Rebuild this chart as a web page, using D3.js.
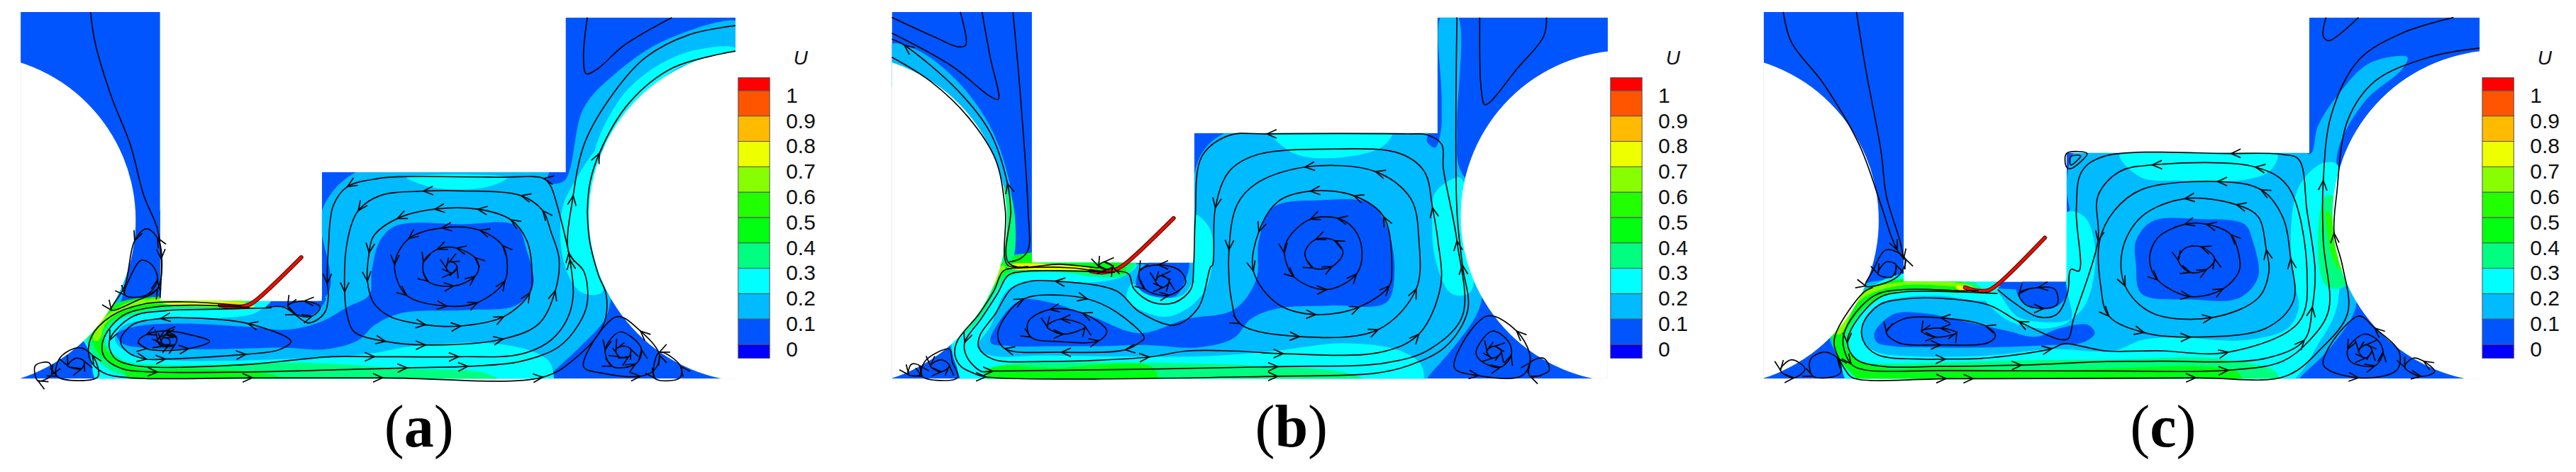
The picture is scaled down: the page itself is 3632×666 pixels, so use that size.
<!DOCTYPE html>
<html>
<head>
  <meta charset="utf-8">
  <title>Velocity contours and streamlines</title>
  <script src="https://d3js.org/d3.v7.min.js"></script>
  <style>
    body { margin: 0; background: #fff; }
    svg { display: block; }
  </style>
</head>
<body>
  <script>
// colour bar
const levelValues = [0, 0.1, 0.2, 0.3, 0.4, 0.5, 0.6, 0.7, 0.8, 0.9, 1];
const levelLabels = ["0", "0.1", "0.2", "0.3", "0.4", "0.5", "0.6", "0.7", "0.8", "0.9", "1"];
const bandColors = ["#0000ff", "#0055ff", "#00bbff", "#00ffff", "#00ff80", "#00ff11", "#22ff00", "#88ff00", "#eeff00", "#ffbb00", "#ff5500", "#ff0000"];

// panel geometry in reference units
const panelNames = ["a", "b", "c"];
const outlineA = [[38,40],[295,40],[295,1000],[593,1000],[593,572],[1042,572],[1042,58],[1355,58],[1355,1258],[38,1258]];
const outlineB = [[49,40],[307,40],[307,873],[606,873],[606,442],[1054,442],[1054,58],[1368,58],[1368,1258],[49,1258]];
const outlineC = [[74,40],[332,40],[332,936],[632,936],[632,508],[1079,508],[1079,58],[1393,58],[1393,1258],[74,1258]];
const rollersA = [[-56,732],[1391,718]];
const rollersB = [[-45,732],[1403,718]];
const rollersC = [[-20,732],[1428,718]];
const plateA = [[555,855],[470,1000],[455,1015],[430,1020],[405,1014]];
const plateB = [[568,725],[480,875],[462,895],[435,905],[415,900]];
const plateC = [[592,790],[505,945],[487,965],[465,965],[445,955]];

// contour bands [U, polygon], painted in order
const bandsA = [
  [0.15, [[670,560],[1010,560],[1008,605],[1040,600],[1075,360],[1130,250],[1230,130],[1370,75],[1400,200],[1180,600],[1150,800],[1125,1000],[1115,1060],[1070,1150],[1010,1250],[990,1285],[185,1285],[168,1170],[155,1100],[205,1020],[240,990],[600,985],[593,700]]],
  [0.05, [[700,800],[730,750],[850,745],[950,750],[970,830],[982,950],[950,1015],[860,1030],[740,1040],[690,1080],[660,1130],[600,1160],[520,1155],[400,1160],[260,1155],[225,1140],[215,1110],[250,1085],[330,1075],[450,1085],[530,1095],[590,1070],[640,1020],[680,980],[685,900]]],
  [0.05, [[530,990],[600,990],[580,1040],[560,1050],[535,1030]]],
  [0.05, [[295,990],[240,1015],[205,1030],[195,1000],[230,800],[300,700]]],
  [0.15, [[240,750],[212,900],[192,1030],[215,1022],[236,900]]],
  [0.25, [[750,590],[935,590],[900,620],[840,630],[790,620]]],
  [0.25, [[1100,500],[1060,600],[1035,700],[1040,880],[1070,970],[1110,970],[1090,700]]],
  [0.25, [[1355,160],[1255,180],[1160,290],[1105,450],[1095,520],[1150,400],[1250,225],[1355,190]]],
  [0.25, [[500,995],[290,997],[205,1030],[150,1100],[165,1170],[190,1290],[1012,1290],[1015,1210],[985,1170],[900,1140],[760,1150],[680,1175],[560,1190],[300,1195],[235,1170],[212,1130],[225,1085],[290,1058],[420,1055],[470,1040]]],
  [0.35, [[480,990],[300,985],[200,1020],[160,1110],[172,1180],[205,1232],[240,1258],[240,1290],[935,1290],[900,1243],[750,1225],[560,1205],[300,1212],[225,1195],[195,1135],[210,1075],[265,1037],[340,1025],[440,1025]]],
  [0.45, [[450,995],[300,985],[205,1018],[170,1115],[182,1175],[225,1230],[260,1290],[560,1290],[500,1245],[350,1225],[260,1225],[210,1190],[188,1130],[200,1075],[255,1030],[330,1015],[440,1017]]],
  [0.65, [[450,990],[300,990],[230,1010],[180,1080],[172,1130],[182,1130],[197,1070],[245,1020],[320,1008],[450,1015]]],
  [0.75, [[300,998],[450,1008],[470,1018],[440,1020],[300,1006]]],
  [0.85, [[405,1008],[455,1012],[465,1018],[440,1022],[405,1016]]]
];
const bandsB = [
  [0.15, [[680,430],[1035,430],[1035,470],[1050,490],[1060,440],[1062,330],[1062,50],[1090,50],[1090,430],[1095,560],[1150,700],[1135,1000],[1125,1050],[1090,1140],[1040,1245],[1020,1285],[190,1285],[165,1190],[155,1120],[215,1000],[250,860],[606,860],[600,700],[620,510]]],
  [0.05, [[750,690],[840,665],[930,675],[960,750],[975,900],[960,1005],[860,1015],[760,1025],[710,1060],[679,1123],[614,1154],[514,1146],[436,1150],[348,1150],[270,1150],[231,1138],[250,1060],[287,997],[340,1005],[418,1052],[505,1107],[592,1060],[679,1029],[720,930],[725,800]]],
  [0.05, [[505,900],[530,865],[595,865],[585,950],[570,985],[530,985],[500,950]]],
  [0.15, [[49,145],[100,170],[170,270],[230,420],[265,600],[275,780],[270,860],[235,900],[200,700],[100,400],[20,200]]],
  [0.25, [[750,442],[970,442],[950,490],[860,525],[790,510]]],
  [0.25, [[1050,640],[1095,590],[1115,700],[1115,970],[1080,975],[1050,860],[1045,700]]],
  [0.25, [[606,712],[635,760],[640,860],[628,958],[610,1000],[597,1021],[557,1052],[514,1036],[483,997],[483,966],[492,942],[514,974],[549,989],[584,981],[601,942],[606,900]]],
  [0.25, [[500,880],[330,860],[250,880],[165,1100],[160,1165],[168,1215],[190,1290],[1020,1290],[1025,1215],[985,1165],[880,1140],[760,1165],[679,1178],[592,1185],[331,1181],[231,1181],[207,1154],[231,1083],[257,974],[287,938],[331,930],[418,938],[479,915]]],
  [0.35, [[222,1258],[218,1233],[252,1213],[374,1205],[505,1205],[720,1215],[900,1245],[940,1290],[215,1290]]],
  [0.35, [[176,1115],[213,1052],[248,950],[270,915],[374,907],[418,919],[479,915],[500,864],[450,864],[260,860],[240,890],[200,1000],[150,1110]]],
  [0.45, [[232,1290],[230,1228],[350,1222],[530,1222],[535,1290]]],
  [0.45, [[170,1115],[205,1050],[246,930],[270,899],[374,891],[430,900],[479,905],[470,860],[260,860],[200,1000],[160,1100]]],
  [0.35, [[240,600],[268,650],[272,860],[258,880],[240,700]]],
  [0.65, [[200,1000],[255,880],[258,890],[205,1010]]],
  [0.75, [[265,880],[400,885],[440,900],[470,890],[450,910],[400,900],[265,890]]]
];
const bandsC = [
  [0.15, [[632,600],[650,500],[700,500],[1060,500],[1082,510],[1095,420],[1130,320],[1190,210],[1260,190],[1250,230],[1180,340],[1130,520],[1150,700],[1160,900],[1165,1020],[1120,1150],[1070,1240],[1040,1285],[240,1285],[215,1200],[195,1100],[255,950],[300,930],[640,925]]],
  [0.05, [[760,800],[790,735],[880,728],[960,745],[975,800],[985,920],[950,990],[860,995],[770,975],[760,880]]],
  [0.05, [[278,1107],[313,1044],[366,1040],[444,1068],[522,1099],[575,1119],[618,1091],[671,1079],[684,1107],[662,1138],[610,1146],[488,1154],[400,1154],[313,1150],[283,1138]]],
  [0.05, [[540,950],[560,930],[640,930],[630,990],[605,1025],[570,1020],[545,990]]],
  [0.25, [[730,512],[1020,512],[1005,570],[950,600],[840,600],[770,590]]],
  [0.25, [[632,705],[665,720],[685,830],[670,1000],[640,1060],[590,1070],[540,1050],[510,980],[500,960],[480,985],[520,1060],[560,1085],[600,1090],[640,1060],[632,950]]],
  [0.25, [[1100,545],[1060,620],[1045,800],[1055,960],[1060,1020],[1040,1090],[960,1130],[830,1120],[770,1130],[720,1165],[601,1160],[488,1181],[357,1184],[283,1170],[259,1138],[255,1083],[283,1013],[331,988],[400,983],[488,997],[505,970],[500,925],[300,925],[205,1100],[215,1200],[240,1290],[1025,1290],[1100,1130],[1130,1020],[1135,700],[1130,545]]],
  [0.35, [[460,935],[330,925],[255,975],[205,1090],[207,1150],[228,1195],[255,1240],[280,1290],[1020,1290],[1020,1240],[1000,1220],[900,1190],[700,1195],[553,1197],[400,1205],[261,1205],[239,1193],[233,1115],[270,1005],[331,970],[422,958],[480,975]]],
  [0.35, [[1110,650],[1130,660],[1145,950],[1110,950],[1095,800]]],
  [0.45, [[440,938],[320,930],[250,975],[200,1100],[205,1160],[235,1240],[280,1290],[950,1290],[950,1240],[560,1232],[400,1222],[290,1222],[245,1195],[222,1130],[240,1060],[285,990],[335,958],[440,968]]],
  [0.55, [[1110,700],[1125,730],[1140,900],[1125,870]]],
  [0.65, [[215,1110],[250,1000],[320,950],[440,955],[470,965],[450,945],[330,937],[260,970],[200,1100]]],
  [0.75, [[430,950],[480,965],[510,950],[500,960],[470,972],[430,960]]]
];

// streamlines: [x, y] or [x, y, 1] where an arrow head sits. Open ones run with the flow.
const openA = [
  [[167,40],[175,140],[205,320],[240,480],[265,650],[290,760],[297,860,1],[295,990]],
  [[1082,58],[1075,190],[1080,245],[1100,230],[1150,150],[1238,58]],
  [[445,1015],[340,1003],[265,1010],[205,1050],[168,1120],[165,1190],[190,1238],[240,1255],[465,1255,1],[705,1255,1],[1000,1253,1],[1060,1190],[1111,1083],[1117,981],[1102,911],[1085,785],[1085,628],[1104,510,1],[1160,340],[1240,225],[1355,170]],
  [[460,1022],[360,1014],[285,1020],[225,1050],[190,1130],[192,1185],[225,1225],[290,1236,1],[450,1236],[750,1222,1],[862,1217,1],[958,1201],[1028,1154],[1067,1075],[1082,1005],[1076,903],[1048,840,1],[1056,650,1],[1078,471],[1130,310],[1190,190],[1270,115],[1355,85]],
  [[500,1023],[400,1027],[305,1032],[244,1052],[202,1130,1],[209,1185],[244,1213],[436,1213],[610,1185],[690,1185,1],[845,1185,1],[958,1177],[1015,1130],[1045,1060],[1056,981],[1050,863,1],[1041,785],[1024,667],[1015,620],[1002,593,1],[915,589],[740,587],[697,593],[640,620,1],[614,683],[605,824],[603,942,1],[605,981],[599,1036],[579,1068],[566,1072],[522,1020],[490,1022]]
];
const loopsA = [
  [[536,1134],[457,1075,1],[348,1056],[296,1058,1],[244,1079],[222,1130],[235,1170],[270,1193,1],[305,1193,1],[453,1177,1],[514,1162]],
  [[386,1134],[348,1111],[305,1099,1],[270,1111,1],[255,1134],[270,1158,1],[348,1158,1]],
  [[325,1120],[305,1112,1],[290,1130,1],[300,1150,1],[322,1145,1]],
  [[312,1128],[300,1122,1],[298,1140,1],[312,1145,1]],
  [[1023,966,1],[1030,860],[1015,770],[1000,700,1],[960,650,1],[850,634],[780,635,1],[700,650],[660,700,1],[640,800],[635,970,1],[640,1050],[653,1103],[710,1134,1],[784,1146,1],[927,1126,1],[993,1075]],
  [[980,903],[971,801],[941,730,1],[880,695,1],[801,695,1],[732,726,1],[688,785],[680,840,1],[677,934,1],[688,1005],[719,1052],[784,1079,1],[849,1083,1],[928,1052,1],[976,973,1]],
  [[934,863],[926,816,1],[884,765,1],[814,757,1],[753,793,1],[727,879,1],[749,981,1],[823,1017,1],[880,1005,1],[930,934,1]],
  [[882,887],[875,856,1],[841,824,1],[806,828,1],[780,871,1],[788,934,1],[836,950,1],[875,918,1]],
  [[838,875],[828,870,1],[822,890,1],[832,908,1],[842,890,1]],
  [[590,1020],[560,1000,1],[530,1015,1],[545,1045,1],[575,1050,1]],
  [[270,760],[248,800,1],[230,950],[205,1030,1],[250,1000],[290,960,1],[298,850],[290,790,1]],
  [[260,865],[240,920],[230,980,1],[270,980],[290,930,1],[280,880]],
  [[145,1155],[110,1190],[105,1250,1],[180,1252],[170,1180,1]],
  [[140,1190],[125,1215,1],[150,1225,1],[155,1200,1]],
  [[65,1215],[90,1205],[95,1245,1],[70,1265,1]],
  [[1136,1052],[1075,1217],[1110,1240],[1180,1250,1],[1205,1230],[1215,1180,1],[1180,1100,1]],
  [[1141,1103],[1115,1162,1],[1128,1217,1],[1171,1209,1],[1182,1162,1],[1163,1119]],
  [[1150,1150],[1135,1160,1],[1140,1185,1],[1158,1185,1],[1162,1160,1]],
  [[1215,1170,1],[1206,1256,1],[1252,1256],[1254,1217,1]]
];
const openB = [
  [[175,40],[185,150],[170,155],[130,125],[49,58]],
  [[215,40],[230,190],[245,330],[230,320],[160,220],[49,110]],
  [[272,40],[285,300],[300,700],[300,830],[285,860],[265,870]],
  [[1132,58],[1135,300],[1142,348],[1200,230],[1250,120],[1255,58]],
  [[430,890],[360,878],[265,875],[268,700],[262,610,1],[230,440],[170,300],[72,150,1],[49,130]],
  [[300,885],[262,880],[258,700],[240,530],[190,390],[120,270],[49,190]],
  [[440,905],[380,890],[290,890],[255,899],[237,966],[209,1044],[170,1131],[165,1178],[176,1217],[200,1240],[222,1252,1],[760,1250,1],[940,1240],[1000,1215],[1070,1150],[1110,1030],[1100,880,1],[1090,700],[1090,58]],
  [[460,905],[290,902],[263,915],[244,974],[213,1060],[183,1138,1],[187,1185],[213,1233],[235,1233,1],[760,1218,1],[960,1205],[1040,1160],[1100,1050],[1090,800,1],[1065,560],[1062,480],[1035,448],[1000,445],[740,445,1],[670,450],[620,520],[608,720],[605,880],[600,960],[570,1005],[530,1005],[495,960],[485,910],[460,900]]
];
const loopsB = [
  [[1045,690,1],[1030,570],[985,510],[860,495],[720,515],[670,570],[645,690,1],[640,880],[636,887],[614,1021],[570,1080],[505,1036],[462,966],[350,934,1],[305,934],[270,958],[239,1044],[211,1115],[209,1154],[235,1193],[331,1201],[523,1186,1],[592,1166],[679,1166],[770,1175,1],[950,1170],[1020,1110,1],[1060,950],[1055,800]],
  [[1015,960,1],[1020,800],[1005,660],[940,570,1],[810,555,1],[720,610],[685,680],[670,830,1],[675,1000],[690,1075,1],[800,1118,1],[945,1095,1]],
  [[970,900],[955,720,1],[900,650,1],[820,635,1],[760,670],[725,770,1],[715,900,1],[760,1010],[830,1045,1],[910,1020,1],[965,950,1]],
  [[915,830],[900,760],[870,725,1],[820,728,1],[780,790],[772,840,1],[790,920,1],[850,962,1],[905,910,1]],
  [[880,840],[865,800,1],[830,795,1],[810,840],[825,890,1],[860,885,1]],
  [[514,1123],[505,1138],[479,1162,1],[361,1170,1],[257,1158,1],[244,1115],[261,1044],[292,993,1],[331,980],[409,993,1],[462,1036]],
  [[445,1100],[400,1040,1],[340,1028,1],[300,1070],[305,1120,1],[360,1135],[430,1132,1]],
  [[405,1085,1],[360,1060,1],[335,1085,1],[365,1110,1]],
  [[590,940],[580,900],[540,880,1],[505,900,1],[515,960,1],[560,980,1]],
  [[560,935,1],[545,915,1],[535,935,1],[548,955,1]],
  [[455,885,1],[440,870,1],[430,885,1],[445,895,1]],
  [[155,1160],[110,1200],[105,1250,1],[170,1255],[160,1200]],
  [[140,1195],[120,1215,1],[140,1235,1],[155,1215,1]],
  [[85,1210],[80,1245,1],[100,1245],[100,1215,1]],
  [[1145,1050],[1085,1220],[1130,1248,1],[1210,1248],[1225,1190],[1200,1100,1]],
  [[1155,1100],[1125,1170],[1135,1200],[1170,1220,1],[1190,1180,1],[1185,1135]],
  [[1160,1150,1],[1145,1165,1],[1155,1190,1],[1172,1170,1]],
  [[1225,1205,1],[1250,1190],[1260,1230],[1225,1250,1]]
];
const openC = [
  [[110,40],[125,140],[185,280],[250,480],[290,680],[310,790],[320,830,1]],
  [[245,40],[262,230],[290,500],[300,650],[325,800],[332,860,1]],
  [[1170,58],[1115,135],[1105,120],[1110,58]],
  [[275,955],[257,973],[209,1099],[204,1146],[226,1233],[239,1256],[410,1258,1],[460,1258,1],[870,1255,1],[1035,1250],[1100,1160],[1150,1040],[1140,880],[1125,775,1],[1130,640],[1150,400],[1200,270],[1300,190],[1393,160]],
  [[470,965],[444,966],[331,962],[279,981],[235,1060],[220,1130],[235,1209,1],[261,1229],[400,1231],[705,1232],[930,1230,1],[1030,1200],[1080,1130],[1115,1030],[1105,800],[1105,600,1],[1120,380],[1170,200],[1250,110],[1345,58]],
  [[505,975],[331,970],[287,989],[244,1068],[228,1138,1],[244,1193],[292,1217],[400,1217],[549,1213,1],[705,1201],[800,1200],[1000,1190],[1070,1130,1],[1085,1020,1],[1090,900],[1075,700],[1060,530],[1030,513],[935,510,1],[700,520],[660,570],[650,700],[655,900],[640,895],[634,973],[614,1044],[579,1052],[535,1005],[505,962]]
];
const loopsC = [
  [[618,1127],[544,1068,1],[488,1013],[400,991],[335,993],[287,1013],[257,1076],[257,1130],[283,1178],[357,1193],[409,1193,1],[488,1189],[605,1158,1],[627,1142],[705,1166],[800,1165],[930,1170,1],[1060,1070],[1075,900],[1040,620],[980,555,1],[790,548,1],[730,570],[690,650],[690,800,1],[645,1060],[635,1125]],
  [[1045,860,1],[1030,720],[990,630,1],[910,603,1],[770,630],[720,700],[693,800],[695,950],[710,1050,1],[775,1105,1],[860,1120,1],[1000,1090],[1050,1000]],
  [[1000,830,1],[985,720],[945,680,1],[850,660,1],[770,720],[735,830],[740,950,1],[790,1040],[900,1055,1],[985,990],[1005,900]],
  [[950,850],[935,780,1],[890,745,1],[850,745,1],[800,790],[785,860],[800,930,1],[860,985,1],[920,960,1],[950,900]],
  [[905,860,1],[880,820,1],[850,825],[838,865,1],[860,905,1],[890,895,1]],
  [[501,1115],[483,1083,1],[400,1056,1],[331,1060],[300,1103,1],[322,1138],[400,1146,1],[488,1138]],
  [[430,1105,1],[400,1090,1],[365,1100,1],[390,1120,1]],
  [[615,1010],[610,960],[580,955,1],[545,975,1],[555,1010],[590,1025,1]],
  [[632,510],[670,510],[640,560],[632,555]],
  [[640,520],[658,518],[640,548]],
  [[300,830],[275,900],[262,950,1],[320,920],[335,860,1]],
  [[300,870],[285,910,1],[310,920],[318,880,1]],
  [[125,1195],[105,1230,1],[130,1255,1],[150,1225]],
  [[185,1170],[160,1195],[165,1250,1],[215,1240],[210,1190,1]],
  [[1170,1050],[1105,1210],[1170,1255,1],[1240,1230],[1245,1170],[1200,1090,1]],
  [[1180,1110],[1150,1160,1],[1155,1200],[1200,1215,1],[1215,1170,1],[1205,1130]],
  [[1185,1145,1],[1170,1165,1],[1182,1190,1],[1195,1165,1]],
  [[1270,1190],[1255,1220,1],[1285,1250,1],[1310,1235],[1290,1200,1]]
];

const panelOutlines = [outlineA, outlineB, outlineC];
const panelRollers = [rollersA, rollersB, rollersC];
const panelPlates = [plateA, plateB, plateC];
const panelBands = [bandsA, bandsB, bandsC];
const panelOpen = [openA, openB, openC];
const panelLoops = [loopsA, loopsB, loopsC];

const panelLeft = [0, 1220, 2430];
const barLeft = [1360, 1373, 1398];
const captionCentre = [772, 785, 810];
const rollerRadius = [306, 551];

const svg = d3.select("body").append("svg")
  .attr("width", 3632)
  .attr("height", 666);

const y = d3.scaleLinear().domain([0, 1568]).range([0, 666]);
const bandColor = d3.scaleThreshold().domain(levelValues).range(bandColors);
const levelY = d3.scaleLinear().domain([0, 1]).range([1144, 301]);

panelNames.forEach((name, i) => {
  const x = d3.scaleLinear().domain([0, 1568]).range([panelLeft[i], panelLeft[i] + 1200]);
  const g = svg.append("g");

  const straight = d3.line().x(d => x(d[0])).y(d => y(d[1]));
  const openLine = d3.line().x(d => x(d[0])).y(d => y(d[1])).curve(d3.curveCatmullRom.alpha(0.5));
  const loopLine = d3.line().x(d => x(d[0])).y(d => y(d[1])).curve(d3.curveCatmullRomClosed.alpha(0.5));

  g.append("clipPath").attr("id", "domain-" + name)
    .append("path").attr("d", straight(panelOutlines[i]) + "Z");

  const field = g.append("g").attr("clip-path", `url(#domain-${name})`);
  field.append("path")
    .attr("d", straight(panelOutlines[i]) + "Z")
    .attr("fill", bandColor(0.05));
  field.selectAll("path.band")
    .data(panelBands[i])
    .enter().append("path")
    .attr("class", "band")
    .attr("d", d => loopLine(d[1]))
    .attr("fill", d => bandColor(d[0]));

  // the two rollers are cut out of the field
  field.selectAll("ellipse")
    .data(panelRollers[i])
    .enter().append("ellipse")
    .attr("cx", d => x(d[0]))
    .attr("cy", d => y(d[1]))
    .attr("rx", x(rollerRadius[0]) - x(0))
    .attr("ry", y(rollerRadius[1]) - y(0))
    .attr("fill", "#fff");

  // flexible plate
  g.append("path").attr("d", openLine(panelPlates[i]))
    .attr("fill", "none").attr("stroke", "#6e1208").attr("stroke-width", 6).attr("stroke-linecap", "round");
  g.append("path").attr("d", openLine(panelPlates[i]))
    .attr("fill", "none").attr("stroke", "#f01000").attr("stroke-width", 3).attr("stroke-linecap", "round");

  const streams = g.append("g").attr("fill", "none").attr("stroke", "#050505").attr("stroke-width", 1.7);
  streams.selectAll("path.open")
    .data(panelOpen[i])
    .enter().append("path")
    .attr("class", "open")
    .attr("d", openLine);
  streams.selectAll("path.loop")
    .data(panelLoops[i])
    .enter().append("path")
    .attr("class", "loop")
    .attr("d", loopLine);

  // arrow heads: direction comes from the neighbouring points of the streamline
  const heads = [];
  panelOpen[i].forEach(s => s.forEach((p, k) => {
    if (p[2]) heads.push([p, s[Math.max(k - 1, 0)], s[Math.min(k + 1, s.length - 1)]]);
  }));
  panelLoops[i].forEach(s => s.forEach((p, k) => {
    if (p[2]) heads.push([p, s[(k - 1 + s.length) % s.length], s[(k + 1) % s.length]]);
  }));
  const size = 15;
  streams.selectAll("path.head")
    .data(heads)
    .enter().append("path")
    .attr("class", "head")
    .attr("d", d => {
      const px = x(d[0][0]), py = y(d[0][1]);
      const a = Math.atan2(y(d[2][1]) - y(d[1][1]), x(d[2][0]) - x(d[1][0]));
      const b1 = a + Math.PI - 0.42, b2 = a + Math.PI + 0.42;
      return `M${px + size * Math.cos(b1)},${py + size * Math.sin(b1)}L${px},${py}L${px + size * Math.cos(b2)},${py + size * Math.sin(b2)}`;
    });

  // colour bar
  const barW = x(barLeft[i] + 58) - x(barLeft[i]);
  const bounds = [1190].concat(levelValues.map(v => levelY(v)), [258]);
  const bar = g.append("g");
  bar.selectAll("rect")
    .data(bandColors)
    .enter().append("rect")
    .attr("x", x(barLeft[i]))
    .attr("y", (d, k) => y(bounds[k + 1]))
    .attr("width", barW)
    .attr("height", (d, k) => y(bounds[k]) - y(bounds[k + 1]))
    .attr("fill", d => d)
    .attr("stroke", "#555")
    .attr("stroke-width", 1);
  bar.selectAll("text")
    .data(levelLabels)
    .enter().append("text")
    .attr("x", x(barLeft[i] + 88))
    .attr("y", (d, k) => y(levelY(levelValues[k])) + 17)
    .attr("font-family", "Liberation Sans")
    .attr("font-size", 30)
    .attr("fill", "#111")
    .text(d => d);
  bar.append("text")
    .attr("x", x(barLeft[i] + 115))
    .attr("y", y(190) + 10)
    .attr("text-anchor", "middle")
    .attr("font-family", "Liberation Sans")
    .attr("font-style", "italic")
    .attr("font-size", 28)
    .attr("fill", "#111")
    .text("U");

  // caption
  const cap = g.append("text")
    .attr("x", x(captionCentre[i]))
    .attr("y", 630)
    .attr("text-anchor", "middle")
    .attr("font-family", "Liberation Serif")
    .attr("font-size", 84)
    .attr("fill", "#000");
  cap.append("tspan").text("(");
  cap.append("tspan").attr("font-weight", "bold").text(name);
  cap.append("tspan").text(")");
});
  </script>
</body>
</html>
